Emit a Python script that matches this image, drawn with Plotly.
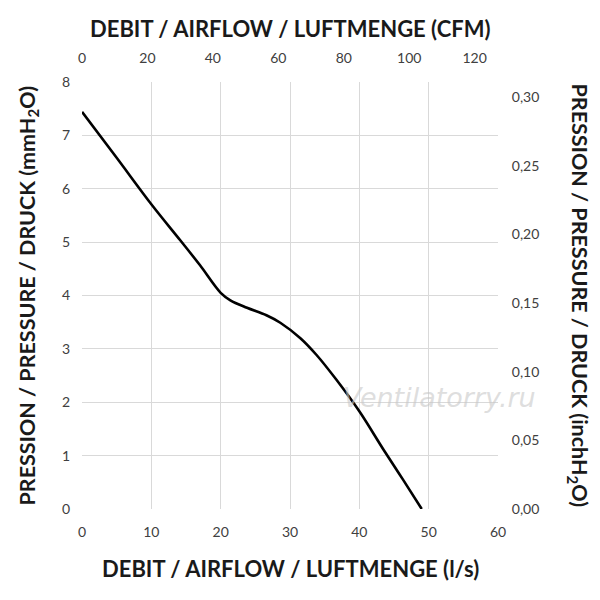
import plotly.graph_objects as go

# Courbe débit / pression (l/s, mmH2O)
flow_ls = [0, 5, 10, 14.2, 17, 20, 21.4, 23.8, 26.6, 28.6, 31.5, 33.8,
           36.7, 40, 43.4, 46.3, 49]
pressure_mm = [7.44, 6.58, 5.71, 5.03, 4.57, 4.05, 3.91, 3.77, 3.63, 3.49,
               3.2, 2.89, 2.42, 1.83, 1.13, 0.55, 0]

# Conversions pour les axes secondaires
LS_TO_CFM = 2.119
MM_TO_INCH = 0.311 / 8

flow_cfm = [v * LS_TO_CFM for v in flow_ls]
pressure_in = [v * MM_TO_INCH for v in pressure_mm]

FONT = "Lato"
TEXT = "#1a1a1a"
GRID = "#d9d9d9"
# la page ajoute 8px de marge autour du graphique
FIG_W = FIG_H = 592
M_L, M_R, M_T, M_B = 74, 102, 74, 91
PLOT_W = FIG_W - M_L - M_R
PLOT_H = FIG_H - M_T - M_B

fig = go.Figure()
fig.add_trace(go.Scatter(x=flow_ls, y=pressure_mm, mode="lines",
                         line=dict(color="black", width=2.6, shape="spline", smoothing=1.0),
                         showlegend=False))
# trace invisible pour activer les axes CFM / inchH2O
fig.add_trace(go.Scatter(x=flow_cfm, y=pressure_in, xaxis="x2", yaxis="y2",
                         mode="lines", opacity=0, hoverinfo="skip", showlegend=False))

tick_font = dict(family=FONT, size=14, color="#404040")
h_title_font = dict(family=FONT, size=22, color=TEXT)
v_title_font = dict(family=FONT, size=21.5, color=TEXT)
no_tick = dict(ticks="outside", tickcolor="rgba(0,0,0,0)", automargin=False)

fig.update_layout(
    width=FIG_W, height=FIG_H,
    margin=dict(l=M_L, r=M_R, t=M_T, b=M_B),
    plot_bgcolor="white", paper_bgcolor="white",
    separators=",.",
    xaxis=dict(range=[0, 60], dtick=10, showgrid=True, gridcolor=GRID,
               zeroline=False, showline=False, ticklen=10, tickfont=tick_font, **no_tick),
    yaxis=dict(range=[0, 8], dtick=1, showgrid=True, gridcolor=GRID,
               zeroline=False, showline=False, ticklen=8, tickfont=tick_font, **no_tick),
    xaxis2=dict(range=[0, 60 * LS_TO_CFM], dtick=20, overlaying="x", side="top",
                showgrid=False, zeroline=False, ticklen=12, tickfont=tick_font, **no_tick),
    yaxis2=dict(range=[0, 0.311], dtick=0.05, tickformat=".2f", overlaying="y",
                side="right", showgrid=False, zeroline=False, ticklen=10,
                tickfont=tick_font, **no_tick),
    annotations=[
        dict(text="<b>DEBIT / AIRFLOW / LUFTMENGE (CFM)</b>",
             xref="paper", yref="paper", x=0.5, y=1 + 54 / PLOT_H,
             xanchor="center", yanchor="middle", showarrow=False, font=h_title_font),
        dict(text="<b>DEBIT / AIRFLOW / LUFTMENGE (l/s)</b>",
             xref="paper", yref="paper", x=0.5, y=-59 / PLOT_H,
             xanchor="center", yanchor="middle", showarrow=False, font=h_title_font),
        dict(text="<b>PRESSION / PRESSURE / DRUCK (mmH<sub>2</sub>O)</b>", textangle=-90,
             xref="paper", yref="paper", x=-54 / PLOT_W, y=0.5,
             xanchor="center", yanchor="middle", showarrow=False, font=v_title_font),
        dict(text="<b>PRESSION / PRESSURE / DRUCK (inchH<sub>2</sub>O)</b>", textangle=90,
             xref="paper", yref="paper", x=1 + 80 / PLOT_W, y=0.5,
             xanchor="center", yanchor="middle", showarrow=False, font=v_title_font),
        dict(text="<i>Ventilatorry.ru</i>", xref="x", yref="y", x=51.6, y=2.08,
             showarrow=False, font=dict(family="DejaVu Sans", size=27,
                                        color="rgba(200,200,200,0.6)")),
    ],
)

fig.write_html("out.html")
